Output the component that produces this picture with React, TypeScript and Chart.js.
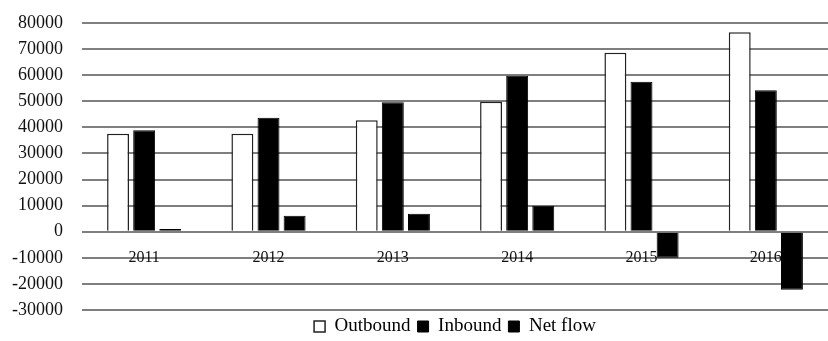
import React, { useEffect, useRef } from "react";
import { Chart, registerables } from "chart.js";

Chart.register(...registerables);

const categories = ["2011", "2012", "2013", "2014", "2015", "2016"];
const outbound = [37600, 37600, 42700, 49800, 68600, 76500];
const inbound = [38900, 43700, 49600, 59800, 57500, 54200];
const netFlow = [1000, 6100, 6900, 10000, -10000, -22200];
const yMin = -30000;
const yMax = 80000;
const yStep = 10000;

export default function App() {
  const ref = useRef<HTMLCanvasElement | null>(null);

  useEffect(() => {
    if (!ref.current) return;
    const serif = "'Liberation Serif', 'Times New Roman', serif";
    const chart = new Chart(ref.current, {
      type: "bar",
      data: {
        labels: categories,
        datasets: [
          {
            label: "Outbound",
            data: outbound,
            backgroundColor: "#ffffff",
            borderColor: "#222222",
            borderWidth: 1.5,
          },
          {
            label: "Inbound",
            data: inbound,
            backgroundColor: "#000000",
            borderColor: "#000000",
            borderWidth: 1,
          },
          {
            label: "Net flow",
            data: netFlow,
            backgroundColor: "#000000",
            borderColor: "#000000",
            borderWidth: 1,
          },
        ],
      },
      options: {
        animation: false,
        responsive: false,
        maintainAspectRatio: false,
        layout: { padding: { top: 23, left: 0, right: 0, bottom: -5 } },
        datasets: {
          bar: { categoryPercentage: 0.63, barPercentage: 0.84 },
        },
        plugins: {
          tooltip: { enabled: false },
          legend: {
            position: "bottom",
            fullSize: false,
            labels: {
              boxWidth: 11,
              boxHeight: 11,
              padding: 7,
              color: "#000",
              font: { family: serif, size: 19 },
            },
          },
        },
        scales: {
          x: {
            position: { y: 0 } as any,
            grid: { display: false, drawTicks: false },
            border: { display: false },
            ticks: {
              padding: 16,
              color: "#111",
              font: { family: serif, size: 16 },
            },
          },
          y: {
            min: yMin,
            max: yMax,
            afterFit: (s: any) => {
              s.width = 82;
              s.paddingTop = 0;
              s.paddingBottom = 0;
            },
            grid: { color: "#7f7f7f", lineWidth: 2, drawTicks: false },
            border: { display: false },
            ticks: {
              stepSize: yStep,
              padding: 19,
              color: "#111",
              font: { family: serif, size: 18 },
              callback: (v: any) => String(v),
            },
          },
        },
      },
    });
    return () => chart.destroy();
  }, []);

  return (
    <div style={{ position: "fixed", left: 0, top: 0, width: 828, height: 341, background: "#fff" }}>
      <canvas ref={ref} width={828} height={341} style={{ width: 828, height: 341 }} />
    </div>
  );
}
